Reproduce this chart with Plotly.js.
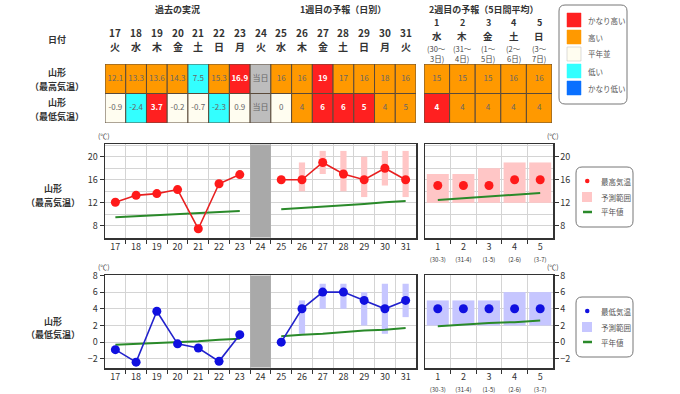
<!DOCTYPE html>
<html><head><meta charset="utf-8">
<script src="https://cdn.plot.ly/plotly-3.0.1.min.js"></script>
<style>html,body{margin:0;padding:0;background:#fff}#chart{width:680px;height:394px}</style>
</head><body><div id="chart"></div>
<script>
// ---------- data ----------
const days1 = [17,18,19,20,21,22,23,24,25,26,27,28,29,30,31];
const weekdays1 = ['火','水','木','金','土','日','月','火','水','木','金','土','日','月','火'];
const maxText1 = ['12.1','13.3','13.6','14.3','7.5','15.3','16.9','当日','16','16','19','17','16','18','16'];
const maxClass1 = ['高い','高い','高い','高い','低い','高い','かなり高い','当日','高い','高い','かなり高い','高い','高い','高い','高い'];
const minText1 = ['-0.9','-2.4','3.7','-0.2','-0.7','-2.3','0.9','当日','0','4','6','6','5','4','5'];
const minClass1 = ['平年並','低い','かなり高い','平年並','平年並','低い','平年並','当日','平年並','高い','かなり高い','かなり高い','かなり高い','高い','高い'];

const days2 = [1,2,3,4,5];
const weekdays2 = ['水','木','金','土','日'];
const periodStart2 = ['30','31','1','2','3'];
const periodEnd2 = ['3','4','5','6','7'];
const maxText2 = ['15','15','15','16','16'];
const maxClass2 = ['高い','高い','高い','高い','高い'];
const minText2 = ['4','4','4','4','4'];
const minClass2 = ['かなり高い','高い','高い','高い','高い'];

const pastDays = [17,18,19,20,21,22,23];
const pastMax = [12.1,13.3,13.6,14.3,7.5,15.3,16.9];
const pastMin = [-0.9,-2.4,3.7,-0.2,-0.7,-2.3,0.9];
const pastNormMax = [9.5,9.7,9.9,10.1,10.2,10.4,10.6];
const pastNormMin = [-0.3,-0.2,-0.1,0.0,0.1,0.3,0.4];

const fcDays = [25,26,27,28,29,30,31];
const fcMax = [16,16,19,17,16,18,16];
const fcMaxLo = [null,14,17,14,13,15,13];
const fcMaxHi = [null,19,21,21,20,21,21];
const fcMin = [0,4,6,6,5,4,5];
const fcMinLo = [null,1,4,4,2,1,3];
const fcMinHi = [null,5,7,7,6,7,7];
const fcNormMax = [10.9,11.1,11.4,11.6,11.8,12.1,12.3];
const fcNormMin = [0.7,0.9,1.0,1.2,1.4,1.5,1.7];

const wk2Max = [15,15,15,16,16];
const wk2MaxLo = [12,12,12,12,12];
const wk2MaxHi = [17,17,18,19,19];
const wk2Min = [4,4,4,4,4];
const wk2MinLo = [2,2,2,2,2];
const wk2MinHi = [5,5,5,6,6];
const wk2NormMax = [12.5,12.8,13.1,13.4,13.7];
const wk2NormMin = [1.9,2.1,2.3,2.4,2.6];

const maxTicks = [8,12,16,20];
const minTicks = [-2,0,2,4,6,8];
const legendClasses = ['かなり高い','高い','平年並','低い','かなり低い'];

// ---------- styling ----------
const W=680, H=394;
const px = v => v/W, py = v => 1 - v/H;
const FONT = '"Noto Sans CJK JP", "Noto Sans", sans-serif';
const classColors = {'かなり高い':'#ff2020','高い':'#ff9900','平年並':'#fffdf0','低い':'#33ffff','かなり低い':'#0a70ff','当日':'#bdbdbd'};
const RED='#ff1a1a', BLUE='#1010e0', GREEN='#2a8a2a', PINK='#ffc6c6', LBLUE='#c6c6ff', GRID='#d4d4d4';

const traces = [];
function tableRow(xs, classes, texts, base, xa, ya){
  traces.push({type:'bar', x:xs, y:xs.map(()=>1), base:base, width:1,
    marker:{color:classes.map(c=>classColors[c]), line:{color:'#5a4a3a', width:1}},
    xaxis:xa, yaxis:ya, hoverinfo:'skip', showlegend:false});
  traces.push({type:'scatter', mode:'text', x:xs, y:xs.map(()=>base+0.5),
    text:texts.map((t,i)=>classes[i]==='かなり高い'?'<b>'+t+'</b>':t),
    textfont:{size:8, family:FONT, color:classes.map(c=>c==='かなり高い'?'#ffffff':'#666666')},
    xaxis:xa, yaxis:ya, hoverinfo:'skip', showlegend:false});
}
tableRow(days1, maxClass1, maxText1, 1, 'x5', 'y5');
tableRow(days1, minClass1, minText1, 0, 'x5', 'y5');
tableRow(days2, maxClass2, maxText2, 1, 'x6', 'y6');
tableRow(days2, minClass2, minText2, 0, 'x6', 'y6');

function rangeBar(xs, lo, hi, w, color, xa, ya){
  traces.push({type:'bar', x:xs, base:lo, y:hi.map((h,i)=>h==null?null:h-lo[i]), width:w,
    marker:{color:color, line:{width:0}}, xaxis:xa, yaxis:ya, hoverinfo:'skip', showlegend:false});
}
function line(xs, ys, color, xa, ya, w){
  traces.push({type:'scatter', mode:'lines', x:xs, y:ys, line:{color:color, width:w||2},
    xaxis:xa, yaxis:ya, hoverinfo:'skip', showlegend:false});
}
function pts(xs, ys, color, lcolor, xa, ya, withLine){
  traces.push({type:'scatter', mode:withLine?'lines+markers':'markers', x:xs, y:ys,
    line:{color:lcolor, width:1.6}, marker:{color:color, size:9},
    xaxis:xa, yaxis:ya, hoverinfo:'skip', showlegend:false});
}
// max chart
rangeBar(fcDays, fcMaxLo, fcMaxHi, 0.3, PINK, 'x', 'y');
rangeBar(days2, wk2MaxLo, wk2MaxHi, 0.86, PINK, 'x2', 'y2');
line(pastDays, pastNormMax, GREEN, 'x', 'y');
line(fcDays, fcNormMax, GREEN, 'x', 'y');
line(days2, wk2NormMax, GREEN, 'x2', 'y2');
pts(pastDays, pastMax, RED, '#e82020', 'x', 'y', true);
pts(fcDays, fcMax, RED, '#e82020', 'x', 'y', true);
pts(days2, wk2Max, RED, RED, 'x2', 'y2', false);
// min chart
rangeBar(fcDays, fcMinLo, fcMinHi, 0.3, LBLUE, 'x3', 'y3');
rangeBar(days2, wk2MinLo, wk2MinHi, 0.86, LBLUE, 'x4', 'y4');
line(pastDays, pastNormMin, GREEN, 'x3', 'y3');
line(fcDays, fcNormMin, GREEN, 'x3', 'y3');
line(days2, wk2NormMin, GREEN, 'x4', 'y4');
pts(pastDays, pastMin, BLUE, '#2222cc', 'x3', 'y3', true);
pts(fcDays, fcMin, BLUE, '#2222cc', 'x3', 'y3', true);
pts(days2, wk2Min, BLUE, BLUE, 'x4', 'y4', false);

// ---------- axes ----------
const tf = {size:9, color:'#333', family:FONT};
const half1 = days1.slice(0,-1).map(d=>d+0.5);
const half2 = days2.slice(0,-1).map(d=>d+0.5);
const frame = {showline:true, linecolor:'#333', linewidth:1.5, mirror:true, zeroline:false, fixedrange:true};
function xAx1(anchor, dom){
  return Object.assign({}, frame, {domain:dom, range:[16.5,31.5], anchor:anchor, tickmode:'array',
    tickvals:days1, ticktext:days1.map(String), ticks:'', showgrid:false, tickfont:tf,
    minor:{tickmode:'array', tickvals:half1, ticks:'outside', ticklen:4, tickcolor:'#333', showgrid:true, gridcolor:GRID, gridwidth:1}});
}
function xAx2(anchor, dom){
  return Object.assign({}, frame, {domain:dom, range:[0.5,5.5], anchor:anchor, tickmode:'array',
    tickvals:days2, ticktext:days2.map((d,i)=>d+'<br><span style="font-size:6px">('+periodStart2[i]+'-'+periodEnd2[i]+')</span>'),
    ticks:'', showgrid:false, tickfont:tf,
    minor:{tickmode:'array', tickvals:half2, ticks:'outside', ticklen:4, tickcolor:'#333', showgrid:true, gridcolor:GRID, gridwidth:1}});
}
function yAx(anchor, dom, range, tickvals, minorvals, side){
  return Object.assign({}, frame, {domain:dom, range:range, anchor:anchor, side:side, tickmode:'array',
    tickvals:tickvals, ticks:'outside', ticklen:4, tickcolor:'#333', showgrid:true, gridcolor:GRID, tickfont:tf,
    minor:{tickmode:'array', tickvals:minorvals, ticks:'', showgrid:true, gridcolor:GRID, gridwidth:1}});
}
const xd1 = [px(105), px(416)], xd2 = [px(425), px(553)];
const ydTop = [py(238), py(144)], ydBot = [py(368), py(275)], ydTab = [py(123), py(64)];
const hidden = {visible:false, fixedrange:true};

const layout = {
  width:W, height:H, margin:{l:0,r:0,t:0,b:0}, paper_bgcolor:'#fff', plot_bgcolor:'#fff',
  font:{family:FONT, color:'#333'}, barmode:'overlay', showlegend:false,
  xaxis: xAx1('y', xd1),
  yaxis: yAx('x', ydTop, [5.9,22.2], maxTicks, [6,10,14,18,22], 'left'),
  xaxis2: xAx2('y2', xd2),
  yaxis2: yAx('x2', ydTop, [5.9,22.2], maxTicks, [6,10,14,18,22], 'right'),
  xaxis3: xAx1('y3', xd1),
  yaxis3: yAx('x3', ydBot, [-3.1,8.05], minTicks, [], 'left'),
  xaxis4: xAx2('y4', xd2),
  yaxis4: yAx('x4', ydBot, [-3.1,8.05], minTicks, [], 'right'),
  xaxis5: Object.assign({domain:xd1, range:[16.5,31.5], anchor:'y5'}, hidden),
  yaxis5: Object.assign({domain:ydTab, range:[0,2], anchor:'x5'}, hidden),
  xaxis6: Object.assign({domain:[px(424), px(552)], range:[0.5,5.5], anchor:'y6'}, hidden),
  yaxis6: Object.assign({domain:ydTab, range:[0,2], anchor:'x6'}, hidden),
  shapes: [], annotations: []
};

// gray "today" band
[['x','y domain'],['x3','y3 domain']].forEach(([xr,yr])=>{
  layout.shapes.push({type:'rect', xref:xr, yref:yr, x0:23.5, x1:24.5, y0:0.006, y1:0.994,
    fillcolor:'#a9a9a9', line:{width:0}, layer:'above'});
});

// ---------- text ----------
function ann(text, x, y, opts){
  layout.annotations.push(Object.assign({text:text, x:x, y:y, xref:'paper', yref:'paper', borderpad:0,
    showarrow:false, xanchor:'center', yanchor:'middle', font:{size:9, color:'#333', family:FONT}}, opts||{}));
}
ann('<b>過去の実況</b>', 20, py(9), {xref:'x5'});
ann('<b>1週目の予報（日別）</b>', 28, py(9), {xref:'x5'});
ann('<b>2週目の予報（5日間平均）</b>', px(484), py(9));
days1.forEach((d,i)=>{
  ann('<b>'+d+'</b>', d, py(33), {xref:'x5', font:{size:10, color:'#333', family:FONT}});
  ann('<b>'+weekdays1[i]+'</b>', d, py(47), {xref:'x5', font:{size:10, color:'#333', family:FONT}});
});
days2.forEach((d,i)=>{
  ann('<b>'+d+'</b>', d, py(22), {xref:'x6', font:{size:9, color:'#333', family:FONT}});
  ann('<b>'+weekdays2[i]+'</b>', d, py(35.5), {xref:'x6', font:{size:9.5, color:'#333', family:FONT}});
  ann('('+periodStart2[i]+'〜', d, py(48), {xref:'x6', font:{size:7.5, color:'#444', family:FONT}});
  ann(periodEnd2[i]+'日)', d, py(59), {xref:'x6', font:{size:7.5, color:'#444', family:FONT}});
});
ann('<b>日付</b>', px(57), py(40));
ann('<b>山形</b>', px(57), py(72));
ann('<b>（最高気温）</b>', px(57), py(86));
ann('<b>山形</b>', px(57), py(102));
ann('<b>（最低気温）</b>', px(57), py(116));
ann('<b>山形</b>', px(53), py(189));
ann('<b>（最高気温）</b>', px(53), py(202));
ann('<b>山形</b>', px(53), py(321));
ann('<b>（最低気温）</b>', px(53), py(334));
[[104,136],[553,136],[104,267],[553,267]].forEach(([x,y])=>ann('(℃)', px(x), py(y), {font:{size:7, color:'#444', family:FONT}}));

// ---------- legends ----------
function roundRect(x0,y0,x1,y1,r){
  const X=px, Y=py;
  return `M${X(x0+r)},${Y(y0)} L${X(x1-r)},${Y(y0)} Q${X(x1)},${Y(y0)} ${X(x1)},${Y(y0+r)} `+
         `L${X(x1)},${Y(y1-r)} Q${X(x1)},${Y(y1)} ${X(x1-r)},${Y(y1)} L${X(x0+r)},${Y(y1)} `+
         `Q${X(x0)},${Y(y1)} ${X(x0)},${Y(y1-r)} L${X(x0)},${Y(y0+r)} Q${X(x0)},${Y(y0)} ${X(x0+r)},${Y(y0)} Z`;
}
function box(x0,y0,x1,y1){
  layout.shapes.push({type:'path', xref:'paper', yref:'paper', path:roundRect(x0,y0,x1,y1,6),
    line:{color:'#777', width:1}, fillcolor:'#fff'});
}
const lf = {size:7.5, color:'#555', family:FONT};
box(559,5,627,104);
legendClasses.forEach((c,i)=>{
  const cy = 20 + i*17;
  layout.shapes.push({type:'rect', xref:'paper', yref:'paper', x0:px(567), x1:px(581), y0:py(cy-7), y1:py(cy+7),
    fillcolor:classColors[c], line:{color:c==='平年並'?'#bbb':classColors[c], width:0.5}});
  ann(c, px(587), py(cy), {xanchor:'left', font:lf});
});
function chartLegend(y0, ptColor, rangeColor, label){
  box(576,y0,633,y0+60);
  const c1=y0+14, c2=y0+30, c3=y0+45;
  layout.shapes.push({type:'circle', xref:'paper', yref:'paper', x0:px(585), x1:px(589.5), y0:py(c1-2.25), y1:py(c1+2.25),
    fillcolor:ptColor, line:{width:0}});
  layout.shapes.push({type:'rect', xref:'paper', yref:'paper', x0:px(582), x1:px(592), y0:py(c2-5), y1:py(c2+5),
    fillcolor:rangeColor, line:{width:0}});
  layout.shapes.push({type:'line', xref:'paper', yref:'paper', x0:px(583), x1:px(592), y0:py(c3), y1:py(c3),
    line:{color:GREEN, width:2.5}});
  ann(label, px(600), py(c1), {xanchor:'left', font:lf});
  ann('予測範囲', px(600), py(c2), {xanchor:'left', font:lf});
  ann('平年値', px(600), py(c3), {xanchor:'left', font:lf});
}
chartLegend(167, RED, PINK, '最高気温');
chartLegend(297, BLUE, LBLUE, '最低気温');

Plotly.newPlot('chart', traces, layout, {staticPlot:true, displayModeBar:false});
</script>
</body></html>
